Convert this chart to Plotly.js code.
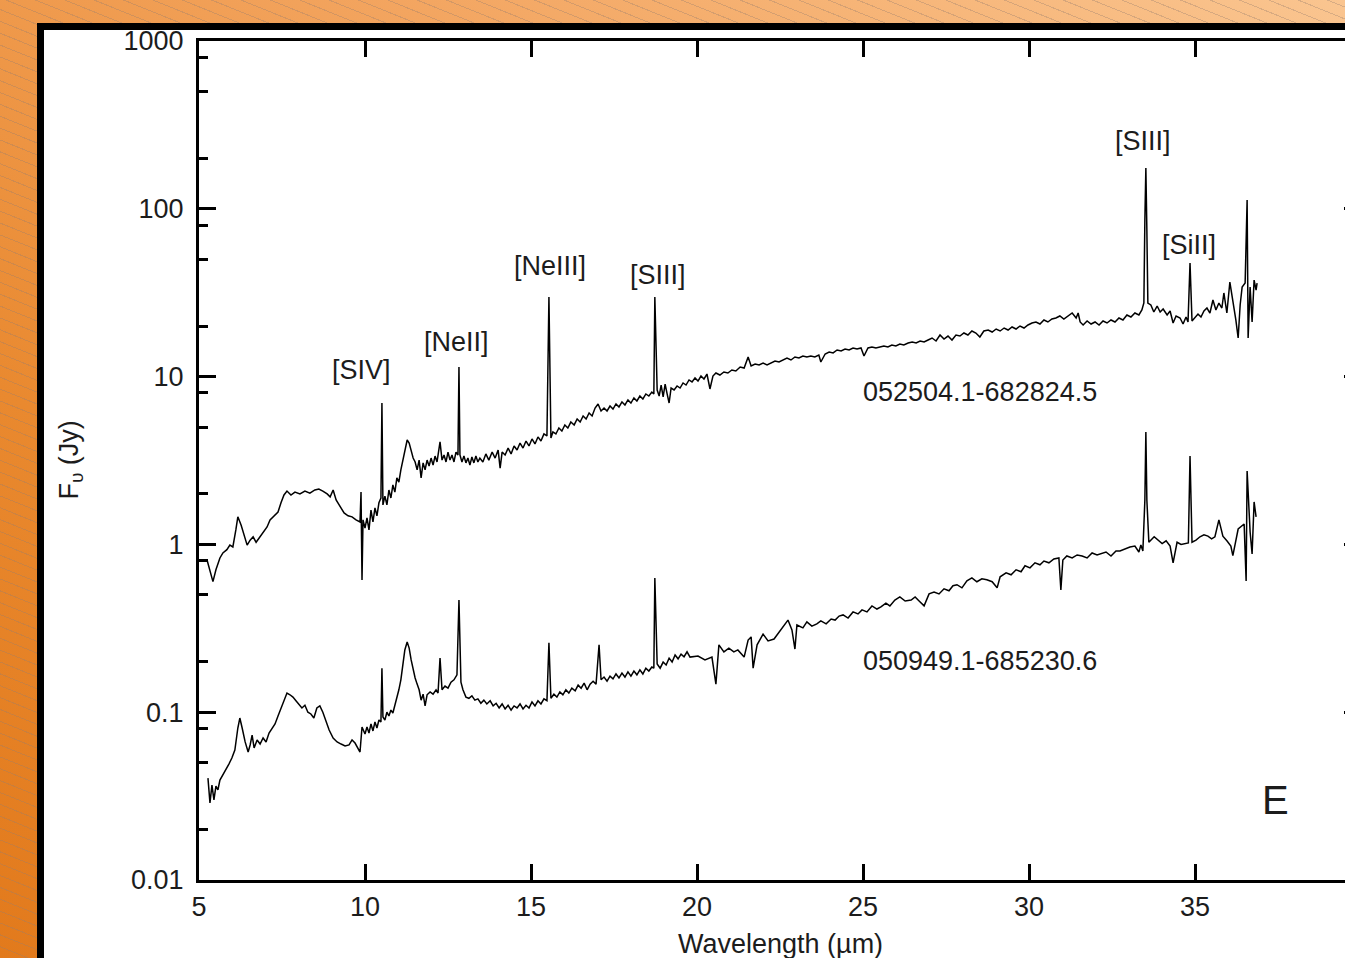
<!DOCTYPE html>
<html><head><meta charset="utf-8">
<script src="https://cdn.plot.ly/plotly-3.0.1.min.js"></script>
<style>
html,body{margin:0;padding:0;width:1345px;height:958px;overflow:hidden;}
body{background:
 repeating-linear-gradient(22deg, rgba(255,255,255,0) 0px, rgba(255,255,255,0) 10px, rgba(150,125,110,0.35) 10px, rgba(150,125,110,0.35) 11px),
 linear-gradient(215deg,#FAC590 0%,#F3A560 35%,#E9892F 70%,#E27A1C 100%);}
#frame{position:absolute;left:37px;top:23px;width:1400px;height:1000px;background:#fff;border-left:7px solid #000;border-top:7px solid #000;}
#chart{position:absolute;left:0;top:0;width:1400px;height:958px;}
</style></head><body><div id="frame"></div><div id="chart"></div>
<script>
// Upper spectrum: 052504.1-682824.5
const wlUpper = [5.24,5.33,5.42,5.51,5.63,5.72,5.84,5.93,6.02,6.11,6.17,6.27,6.36,6.45,6.54,6.63,6.72,6.84,6.96,7.05,7.14,7.26,7.38,7.47,7.56,7.65,7.77,7.89,8.04,8.19,8.34,8.49,8.61,8.73,8.86,8.95,9.04,9.13,9.25,9.37,9.49,9.61,9.73,9.85,9.88,9.91,9.94,10.00,
10.06,10.12,10.18,10.24,10.30,10.36,10.42,10.48,10.51,10.54,10.60,10.66,10.72,10.78,10.84,10.90,10.96,11.02,11.08,11.14,11.20,11.27,11.33,11.39,11.45,11.51,11.57,11.63,11.69,11.75,11.81,11.87,11.93,11.99,12.05,12.11,12.17,12.26,12.32,12.38,12.44,12.50,12.56,12.62,12.68,12.74,12.80,12.83,12.86,12.92,12.98,
13.04,13.10,13.16,13.22,13.28,13.34,13.40,13.46,13.55,13.64,13.73,13.83,13.92,14.01,14.07,14.13,14.22,14.31,14.40,14.49,14.58,14.67,14.76,14.85,14.94,15.03,15.12,15.21,15.30,15.39,15.48,15.54,15.60,15.66,15.75,15.84,15.93,
16.02,16.11,16.20,16.30,16.39,16.48,16.57,16.66,16.75,16.84,16.93,17.02,17.11,17.20,17.29,17.38,17.47,17.56,17.65,17.74,17.83,17.92,18.01,18.10,18.19,18.28,18.37,18.46,18.55,18.64,18.70,18.73,18.80,18.86,18.92,18.98,
19.04,19.10,19.16,19.22,19.31,19.40,19.49,19.58,19.67,19.76,19.85,19.94,20.03,20.12,20.21,20.30,20.39,20.48,20.57,20.69,20.81,20.93,21.05,21.17,21.30,21.42,21.54,21.63,21.75,21.87,21.99,22.11,22.23,22.35,22.47,22.59,22.71,22.83,22.95,
23.07,23.19,23.31,23.43,23.55,23.67,23.73,23.86,23.98,24.10,24.22,24.34,24.46,24.58,24.70,24.82,24.94,25.03,25.15,25.27,25.39,25.51,25.63,25.75,25.87,25.99,26.11,26.23,26.36,26.48,26.60,26.72,26.84,26.96,
27.08,27.20,27.32,27.44,27.56,27.68,27.80,27.92,28.04,28.16,28.28,28.40,28.52,28.64,28.77,28.89,29.01,29.13,29.25,29.37,29.49,29.61,29.73,29.85,29.97,30.09,30.21,30.33,30.45,30.57,30.69,30.81,30.93,
31.05,31.17,31.30,31.42,31.48,31.54,31.63,31.75,31.87,31.99,32.11,32.23,32.35,32.47,32.59,32.71,32.83,32.95,33.07,33.19,33.31,33.40,33.46,33.49,33.52,33.55,33.58,33.67,33.76,33.86,33.95,
34.04,34.16,34.25,34.34,34.43,34.55,34.64,34.73,34.79,34.85,34.91,35.00,35.09,35.18,35.27,35.36,35.45,35.54,35.63,35.72,35.81,35.87,35.96,36.05,36.14,36.23,36.30,36.36,36.42,36.51,36.57,36.60,36.66,36.72,36.78,36.84,36.87];
const fluxUpper = [0.81,0.685,0.60,0.706,0.83,0.89,0.93,0.99,0.965,1.22,1.46,1.30,1.14,0.99,1.06,1.11,1.03,1.11,1.19,1.27,1.40,1.48,1.56,1.77,1.97,2.08,1.97,2.05,2.00,2.08,2.02,2.11,2.14,2.08,2.00,1.92,2.11,1.84,1.67,1.54,1.48,1.46,1.40,1.36,2.05,0.614,1.40,1.25,
1.44,1.22,1.60,1.36,1.65,1.48,1.77,1.89,6.96,1.72,1.94,1.72,2.11,1.89,2.26,2.05,2.49,2.35,2.78,3.18,3.65,4.19,4.02,3.55,3.27,3.10,2.78,3.18,2.49,3.06,2.78,3.18,2.93,3.27,2.97,3.36,3.10,4.08,3.18,3.41,3.10,3.55,3.18,3.41,3.10,3.55,3.41,11.4,3.41,3.10,3.36,
3.06,3.27,2.97,3.32,3.06,3.36,3.10,3.27,3.10,3.46,3.18,3.55,3.27,3.65,2.85,3.55,3.41,3.75,3.46,3.86,3.65,4.02,3.75,4.13,3.86,4.25,3.97,4.37,4.13,4.55,4.43,29.8,4.31,4.68,4.55,4.94,4.74,
5.15,4.94,5.36,5.15,5.59,5.36,5.83,5.59,6.07,5.83,6.50,6.87,6.24,6.50,6.24,6.68,6.41,6.87,6.59,7.06,6.78,7.26,6.96,7.46,7.16,7.66,7.36,7.88,7.66,8.09,7.88,29.8,8.32,7.66,8.91,7.56,
9.03,7.88,6.96,8.55,8.32,8.79,8.55,9.16,8.91,9.55,9.29,9.81,9.41,10.08,9.68,10.36,8.44,10.08,10.51,10.22,10.65,10.51,10.95,10.80,11.41,11.25,13.09,11.57,11.89,11.73,12.05,11.73,12.05,12.39,12.22,12.56,12.91,12.56,13.09,
12.91,13.27,13.09,13.27,13.09,13.45,12.22,13.64,14.02,13.83,14.41,14.21,14.60,14.41,14.81,14.60,14.81,13.27,14.81,15.01,14.81,15.01,15.22,15.01,15.43,15.22,15.64,15.43,15.86,16.08,15.86,16.30,16.08,16.52,
16.98,16.30,17.69,16.75,17.45,16.52,17.69,17.45,18.19,17.69,18.70,18.19,17.22,18.70,18.95,18.44,19.21,18.70,19.48,18.95,19.75,19.21,20.02,19.48,20.30,20.87,21.16,20.58,21.75,21.16,22.04,22.35,22.97,
22.04,22.97,23.93,22.35,23.93,21.16,20.30,21.45,20.58,21.16,20.30,21.45,20.87,21.75,21.16,22.35,21.75,23.29,22.66,23.93,23.29,24.94,27.45,85.8,175,74.8,27.45,26.71,24.27,26.34,24.27,
25.28,23.29,24.60,20.87,22.97,22.35,20.58,22.66,21.16,47.5,21.45,22.35,23.61,22.66,24.60,25.63,23.93,28.6,24.94,27.45,25.63,31.5,23.93,36.6,28.6,21.75,16.98,26.71,34.2,36.1,112.8,16.98,34.2,21.16,37.6,32.8,36.1];

// Lower spectrum: 050949.1-685230.6
const wlLower = [5.27,5.33,5.39,5.45,5.51,5.57,5.63,5.72,5.81,5.90,5.99,6.08,6.17,6.23,6.30,6.39,6.48,6.54,6.60,6.66,6.75,6.84,6.93,7.02,7.11,7.20,7.29,7.38,7.47,7.56,7.65,7.74,7.83,7.92,8.01,8.10,8.19,8.28,8.37,8.46,8.55,8.64,8.73,8.83,8.92,9.04,9.16,9.28,9.40,9.52,9.61,9.70,9.79,9.85,9.91,
10.00,10.06,10.12,10.18,10.24,10.30,10.36,10.42,10.48,10.51,10.54,10.60,10.66,10.72,10.78,10.84,10.90,10.96,11.02,11.08,11.14,11.20,11.27,11.33,11.39,11.45,11.51,11.57,11.63,11.69,11.75,11.81,11.87,11.96,12.05,12.14,12.20,12.26,12.32,12.41,12.50,12.59,12.68,12.77,12.83,12.89,12.95,
13.04,13.13,13.22,13.31,13.40,13.49,13.58,13.67,13.77,13.86,13.95,14.04,14.13,14.22,14.31,14.40,14.49,14.58,14.67,14.76,14.85,14.94,15.03,15.12,15.21,15.30,15.39,15.48,15.54,15.60,15.69,15.78,15.87,15.96,
16.05,16.14,16.23,16.33,16.42,16.51,16.60,16.69,16.78,16.87,16.96,17.05,17.11,17.20,17.29,17.38,17.47,17.56,17.65,17.74,17.83,17.92,18.01,18.10,18.19,18.28,18.37,18.46,18.55,18.64,18.70,18.73,18.80,18.89,18.98,
19.07,19.16,19.25,19.34,19.43,19.52,19.61,19.70,19.79,20.03,20.24,20.45,20.57,20.66,20.81,20.96,21.11,21.23,21.42,21.54,21.63,21.69,21.81,21.99,22.14,22.32,22.47,22.59,22.74,22.86,22.95,
23.01,23.19,23.31,23.46,23.61,23.73,23.89,24.04,24.16,24.28,24.40,24.55,24.70,24.85,24.97,25.12,25.27,25.42,25.54,25.69,25.81,25.96,26.11,26.27,26.45,26.57,26.69,26.84,26.99,
27.14,27.29,27.44,27.59,27.71,27.83,27.98,28.13,28.28,28.43,28.58,28.73,28.89,29.04,29.13,29.31,29.46,29.61,29.76,29.88,30.03,30.18,30.33,30.45,30.60,30.75,30.90,30.96,
31.02,31.14,31.30,31.45,31.60,31.75,31.90,32.05,32.17,32.32,32.47,32.62,32.74,32.89,33.04,33.19,33.31,33.37,33.43,33.49,33.52,33.55,33.61,33.77,33.90,
34.01,34.13,34.25,34.34,34.46,34.58,34.70,34.80,34.85,34.91,35.03,35.15,35.27,35.39,35.50,35.60,35.72,35.84,35.96,36.08,36.14,36.30,36.48,36.54,36.57,36.66,36.72,36.78,36.84];
const fluxLower = [0.0405,0.0288,0.0368,0.0300,0.0363,0.0344,0.0394,0.0422,0.0452,0.0491,0.0533,0.0595,0.0805,0.0923,0.0805,0.0665,0.0579,0.0638,0.0731,0.0612,0.0683,0.0646,0.0702,0.0665,0.0752,0.0805,0.0851,0.0949,0.106,0.118,0.130,0.127,0.123,0.117,0.112,0.106,0.110,0.100,0.0976,0.0923,0.106,0.109,0.100,0.0874,0.0783,0.0702,0.0665,0.0646,0.0629,0.0638,0.0683,0.0655,0.0612,0.0579,0.0816,
0.0742,0.0816,0.0752,0.0851,0.0773,0.0874,0.0805,0.0899,0.0874,0.183,0.0936,0.0899,0.100,0.0949,0.103,0.0989,0.110,0.118,0.136,0.156,0.191,0.235,0.262,0.241,0.205,0.179,0.160,0.147,0.136,0.118,0.128,0.109,0.127,0.132,0.128,0.136,0.130,0.210,0.136,0.143,0.139,0.151,0.156,0.167,0.466,0.151,0.136,
0.123,0.121,0.125,0.118,0.120,0.113,0.118,0.112,0.117,0.109,0.113,0.106,0.112,0.1045,0.110,0.103,0.109,0.106,0.112,0.1045,0.110,0.106,0.115,0.109,0.117,0.112,0.120,0.117,0.259,0.121,0.128,0.123,0.132,0.127,
0.136,0.130,0.139,0.134,0.145,0.139,0.149,0.136,0.147,0.153,0.147,0.252,0.156,0.162,0.153,0.164,0.158,0.169,0.160,0.171,0.162,0.174,0.164,0.176,0.167,0.179,0.169,0.183,0.176,0.186,0.183,0.630,0.194,0.183,0.199,
0.191,0.210,0.199,0.219,0.208,0.222,0.214,0.229,0.213,0.216,0.205,0.213,0.147,0.252,0.229,0.241,0.229,0.235,0.213,0.269,0.281,0.183,0.252,0.292,0.266,0.273,0.301,0.326,0.354,0.309,0.238,
0.331,0.318,0.345,0.326,0.336,0.350,0.336,0.359,0.354,0.374,0.380,0.364,0.396,0.385,0.407,0.396,0.430,0.412,0.424,0.447,0.430,0.466,0.486,0.460,0.466,0.486,0.460,0.430,0.507,
0.520,0.507,0.544,0.529,0.567,0.575,0.551,0.607,0.632,0.599,0.624,0.615,0.599,0.551,0.641,0.677,0.659,0.706,0.687,0.746,0.725,0.777,0.756,0.796,0.777,0.819,0.830,0.535,
0.807,0.853,0.830,0.865,0.853,0.830,0.889,0.865,0.877,0.901,0.853,0.914,0.914,0.939,0.965,0.978,0.901,0.992,0.914,1.84,4.68,1.84,1.03,1.11,1.05,
1.01,1.05,0.978,0.777,1.03,1.00,1.01,1.02,3.36,1.03,1.06,1.11,1.14,1.12,1.08,1.11,1.40,1.12,1.05,0.978,0.858,1.235,1.323,0.605,2.74,1.185,0.877,1.79,1.46];

// Labels (text, wavelength, flux position)
const labelText = ['[SIV]','[NeII]','[NeIII]','[SIII]','[SIII]','[SiII]','052504.1-682824.5','050949.1-685230.6'];
const labelWl   = [9.88,12.77,15.57,18.83,33.43,34.82,28.52,28.52];
const labelFlux = [10.95,16.1,45.7,40.4,253.6,60.8,8.09,0.202];
const panelLetter = 'E';
const panelWl = 37.41, panelFlux = 0.030;

const xTicks = [5,10,15,20,25,30,35];
const xTickText = ['5','10','15','20','25','30','35'];
const yTicks = [0.01,0.1,1,10,100,1000];
const yTickText = ['0.01','0.1','1','10','100','1000'];
const yMinor = [0.02,0.05,0.08,0.2,0.5,0.8,2,5,8,20,50,80,200,500,800];

const FONT = 'Liberation Sans, Arial, Helvetica, sans-serif';
const TXT = '#1c1c1c';

const traces = [
  {x: wlUpper, y: fluxUpper, mode:'lines', line:{color:'#000', width:1.5}, hoverinfo:'skip', showlegend:false},
  {x: wlLower, y: fluxLower, mode:'lines', line:{color:'#000', width:1.5}, hoverinfo:'skip', showlegend:false}
];

const annotations = labelText.map((t,i)=>({
  x: labelWl[i], y: Math.log10(labelFlux[i]), xref:'x', yref:'y', text:t, showarrow:false,
  xanchor:'center', yanchor:'middle', font:{family:FONT, size:27, color:TXT}
}));
annotations.push({x: panelWl, y: Math.log10(panelFlux), xref:'x', yref:'y', text: panelLetter, showarrow:false,
  xanchor:'center', yanchor:'middle', font:{family:FONT, size:40, color:TXT}});
annotations.push({x:0.5, y:-0.0763, xref:'paper', yref:'paper', text:'Wavelength (\u00b5m)', showarrow:false,
  xanchor:'center', yanchor:'middle', font:{family:FONT, size:27, color:TXT}});
annotations.push({x:-0.111, y:0.5, xref:'paper', yref:'paper', text:'F<sub>\u03c5</sub> (Jy)', showarrow:false,
  textangle:-90, xanchor:'center', yanchor:'middle', font:{family:FONT, size:27, color:TXT}});

const layout = {
  width:1400, height:958,
  margin:{l:199, r:39, t:41, b:78, pad:0},
  paper_bgcolor:'rgba(0,0,0,0)', plot_bgcolor:'rgba(0,0,0,0)',
  showlegend:false,
  xaxis:{range:[5,40], tickmode:'array', tickvals:xTicks, ticktext:xTickText,
    ticks:'inside', ticklen:16, tickwidth:3, tickcolor:'#000', showline:true, linewidth:3, linecolor:'#000',
    mirror:'ticks', showgrid:false, zeroline:false, ticklabelstandoff:1, tickfont:{family:FONT, size:27, color:TXT}},
  yaxis:{type:'log', range:[-2,3], tickmode:'array', tickvals:yTicks, ticktext:yTickText,
    ticks:'inside', ticklen:17, tickwidth:3, tickcolor:'#000', showline:true, linewidth:3, linecolor:'#000',
    mirror:'ticks', showgrid:false, zeroline:false, ticklabelstandoff:7, tickfont:{family:FONT, size:27, color:TXT},
    minor:{tickmode:'array', tickvals:yMinor, ticks:'inside', ticklen:9, tickwidth:3, tickcolor:'#000', showgrid:false}},
  annotations: annotations
};

Plotly.newPlot('chart', traces, layout, {staticPlot:true, displayModeBar:false});
</script></body></html>
